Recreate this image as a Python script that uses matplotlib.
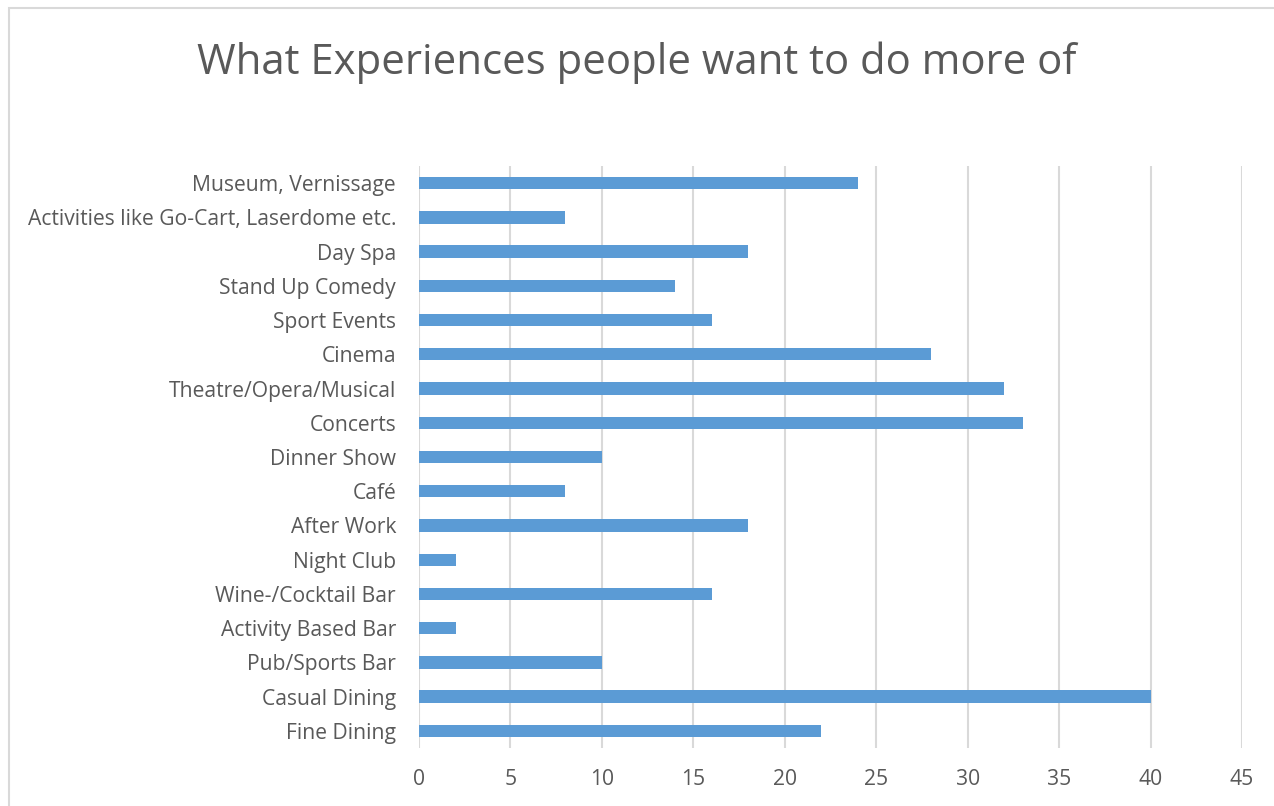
import matplotlib.pyplot as plt
from matplotlib.patches import Rectangle

# survey answers, bottom to top as drawn
categories = ['Fine Dining', 'Casual Dining', 'Pub/Sports Bar', 'Activity Based Bar',
              'Wine-/Cocktail Bar', 'Night Club', 'After Work', 'Café', 'Dinner Show',
              'Concerts', 'Theatre/Opera/Musical', 'Cinema', 'Sport Events',
              'Stand Up Comedy', 'Day Spa', 'Activities like Go-Cart, Laserdome etc.',
              'Museum, Vernissage']
values = [22, 40, 10, 2, 16, 2, 18, 8, 10, 33, 32, 28, 16, 14, 18, 8, 24]
xticks = [0, 5, 10, 15, 20, 25, 30, 35, 40, 45]

plt.rcParams['font.family'] = ['Open Sans', 'DejaVu Sans']
text_col = '#595959'

fig = plt.figure(figsize=(12.74, 8.06), dpi=100)
ax = fig.add_axes([419 / 1274, 58 / 806, 823 / 1274, 582 / 806])

ax.barh(range(len(categories)), values, height=0.36, color='#5b9bd5', zorder=3)

ax.set_xlim(0, 45)
ax.set_ylim(-0.5, len(categories) - 0.5)
ax.set_xticks(xticks)
ax.set_yticks(range(len(categories)))
ax.set_yticklabels(categories)
ax.tick_params(axis='both', length=0, labelsize=15.2, labelcolor=text_col)
ax.tick_params(axis='x', pad=15)
ax.tick_params(axis='y', pad=16.5)
ax.xaxis.grid(True, color='#d9d9d9', linewidth=1.5, zorder=0)
for s in ax.spines.values():
    s.set_visible(False)

fig.suptitle('What Experiences people want to do more of', x=0.5, y=0.948,
             fontsize=30.2, color=text_col, va='top')

# chart frame
fig.add_artist(Rectangle((9 / 1274, -0.5), 2, 1.5 - 8 / 806, transform=fig.transFigure,
                         fill=False, edgecolor='#d9d9d9', linewidth=1.5))

fig.savefig('out.png', dpi=100)
